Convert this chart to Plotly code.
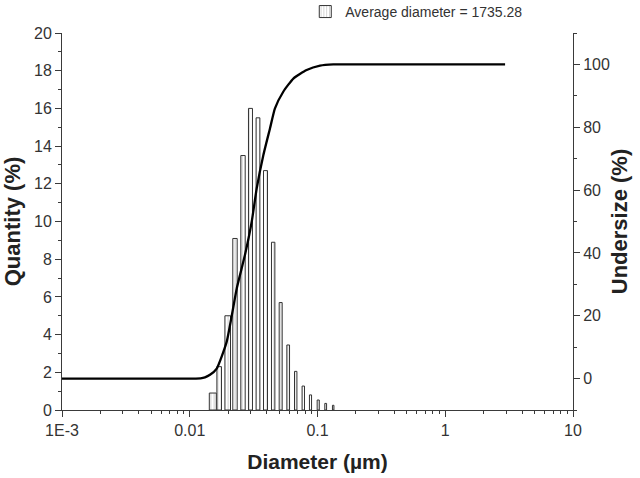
import numpy as np
import plotly.graph_objects as go

# ---- data ----
bar_diameter_um = [0.01515, 0.01700, 0.01982, 0.02260, 0.02611, 0.02988, 0.03421,
                   0.03917, 0.04498, 0.05150, 0.05896, 0.06752, 0.07740, 0.08814,
                   0.1013, 0.1159, 0.1327]
quantity_pct = [0.9, 2.3, 5.0, 9.1, 13.5, 16.0, 15.5, 12.7, 8.9, 5.7, 3.45,
                2.05, 1.27, 0.8, 0.53, 0.35, 0.25]

curve_diameter_um = [0.001, 0.004, 0.009, 0.01215, 0.01315, 0.01440, 0.01626, 0.01945,
                     0.02333, 0.02704, 0.03055, 0.03342, 0.03767, 0.04246, 0.04645,
                     0.05395, 0.06471, 0.08222, 0.1047, 0.1330, 0.2, 0.5, 1.2, 2.94]
undersize_pct = [0, 0, 0, 0.1, 0.4, 1.2, 3.2, 11.7, 28.7, 39.3, 49.9, 60.5, 71.1,
                 79.6, 86.0, 91.3, 95.5, 98.2, 99.6, 100, 100, 100, 100, 100]

x_tick_vals = [0.001, 0.01, 0.1, 1, 10]
x_tick_text = ["1E-3", "0.01", "0.1", "1", "10"]
legend_label = "Average diameter = 1735.28"

# ---- styling ----
# the x axis is drawn in log10 space (linear axis over decades)
px_per_decade = 511 / 4.0
bar_px_widths = [7.0, 4.6, 5.6, 4.4, 4.4, 4.0, 3.8, 4.0, 3.4, 3.0, 2.7, 2.4, 2.4, 2.1, 2.1, 1.8, 1.5]
bar_widths = [w / px_per_decade for w in bar_px_widths]

FONT = "Liberation Sans, Arial, sans-serif"
TXT = "#333333"
AX = "#3a3a3a"

fig = go.Figure()

fig.add_trace(go.Bar(
    x=np.log10(bar_diameter_um), y=quantity_pct, width=bar_widths,
    xaxis="x", yaxis="y", name=legend_label,
    marker=dict(color="white", line=dict(color="#333333", width=1),
                pattern=dict(shape="|", fgcolor="#888888", bgcolor="white",
                             size=3.5, solidity=0.25)),
    showlegend=True,
))

fig.add_trace(go.Scatter(
    x=np.log10(curve_diameter_um), y=undersize_pct, xaxis="x", yaxis="y2",
    mode="lines", line=dict(color="black", width=2.3, shape="spline", smoothing=0.5),
    showlegend=False,
))

minor_x = [np.log10(m * 10.0 ** k) for k in range(-3, 1) for m in range(2, 10)]

fig.update_layout(
    width=640, height=478,
    margin=dict(l=62, r=67, t=33, b=68, autoexpand=False),
    paper_bgcolor="white", plot_bgcolor="white",
    font=dict(family=FONT, color=TXT, size=16),
    bargap=0,
    hovermode=False,
    xaxis=dict(range=[-3, 1], tickvals=np.log10(x_tick_vals), ticktext=x_tick_text,
               ticks="outside", ticklen=6, tickwidth=1, tickcolor=AX,
               showline=True, linecolor=AX, linewidth=1, showgrid=False, zeroline=False,
               minor=dict(tickvals=minor_x, ticks="outside", ticklen=3, tickcolor=AX, showgrid=False),
               tickfont=dict(size=16, color=TXT), automargin=False,
               title=dict(text="Diameter (µm)", font=dict(size=21, color="#222222", family=FONT,
                                                          weight="bold"), standoff=16)),
    yaxis=dict(range=[0, 20], dtick=2, ticks="outside", ticklen=6, tickwidth=1, tickcolor=AX,
               showline=True, linecolor=AX, linewidth=1, showgrid=False, zeroline=False,
               minor=dict(dtick=1, ticks="outside", ticklen=3, tickcolor=AX, showgrid=False),
               tickfont=dict(size=16, color=TXT), automargin=False,
               title=dict(text="Quantity (%)", font=dict(size=22, color="#222222", family=FONT,
                                                         weight="bold"), standoff=19)),
    yaxis2=dict(range=[-10, 110], dtick=20, tick0=0, overlaying="y", side="right", anchor="x",
                ticks="outside", ticklen=6, tickwidth=1, tickcolor=AX,
                showline=True, linecolor=AX, linewidth=1, showgrid=False, zeroline=False,
                minor=dict(dtick=10, ticks="outside", ticklen=3, tickcolor=AX, showgrid=False),
                tickfont=dict(size=16, color=TXT), automargin=False,
                title=dict(text="Undersize (%)", font=dict(size=22, color="#222222", family=FONT,
                                                           weight="bold"), standoff=2)),
    legend=dict(xref="container", yref="container", x=0.477, y=0.975,
                xanchor="left", yanchor="middle", orientation="h",
                font=dict(size=14, color=TXT, family=FONT), bgcolor="rgba(0,0,0,0)"),
)

# remove the browser's default 8px page margin so the 640x478 figure fills the window
fig.write_html("out.html", config={"displayModeBar": False, "staticPlot": True},
               post_script="document.body.style.margin='0';")
